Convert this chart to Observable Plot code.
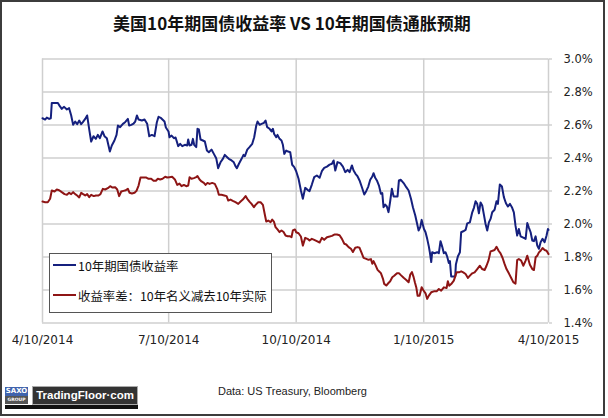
<!DOCTYPE html>
<html>
<head>
<meta charset="utf-8">
<script src="https://cdn.jsdelivr.net/npm/d3@7"></script>
<script src="https://cdn.jsdelivr.net/npm/@observablehq/plot@0.6"></script>
<style>
  html, body { margin: 0; padding: 0; background: #fff; }
  #page { position: relative; width: 608px; height: 418px; overflow: hidden; background: #fff; }
  #frame { position: absolute; left: 0; top: 0; width: 605px; height: 416px; box-sizing: border-box; border: 2px solid #3c3c3c; pointer-events: none; }
  #title { position: absolute; left: 0; width: 584px; top: 11px; text-align: center; font-family: "Noto Sans CJK SC", sans-serif; font-weight: bold; font-size: 17px; color: #111; line-height: 24px; }
  #chart { position: absolute; left: 0; top: 0; }
  #legend { position: absolute; left: 49px; top: 253px; width: 223px; height: 60px; box-sizing: border-box; background: #fff; border: 1px solid #555; font-family: "Noto Sans CJK SC", sans-serif; font-size: 12.4px; color: #111; }
  .lg { position: absolute; left: 3px; height: 18px; line-height: 18px; white-space: nowrap; }
  .sw { display: inline-block; width: 23px; height: 2px; vertical-align: middle; margin-right: 2px; position: relative; top: -3px; }
  #source { position: absolute; left: 218px; top: 385px; font-family: "Liberation Sans", Arial, sans-serif; font-size: 11px; color: #222; }
  #logo-saxo { position: absolute; left: 5px; top: 387px; width: 23px; height: 17px; font-family: "DejaVu Sans", sans-serif; color: #fff; }
  #logo-saxo .a { height: 9px; background: #3f63ad; font-size: 7px; line-height: 9px; text-align: center; font-weight: bold; }
  #logo-saxo .b { height: 8px; background: #555; font-size: 4.5px; line-height: 8px; text-align: center; font-weight: bold; }
  #logo-tf { position: absolute; left: 32px; top: 386px; width: 106px; height: 19px; box-sizing: border-box; background: #333; border: 1px solid #aaa; color: #fff; font-family: "Liberation Sans", Arial, sans-serif; font-weight: bold; font-size: 11.5px; line-height: 17px; text-align: center; }
  #logo-bar { position: absolute; left: 5px; top: 405px; width: 133px; height: 4px; background: #111; }
</style>
</head>
<body>
<div id="page">
  <div id="chart"></div>
  <div id="title">美国10年期国债收益率 VS 10年期国债通胀预期</div>
  <div id="legend"></div>
  <div id="logo-saxo"><div class="a">SAXO</div><div class="b">GROUP</div></div>
  <div id="logo-tf">TradingFloor·com</div>
  <div id="logo-bar"></div>
  <div id="source">Data: US Treasury, Bloomberg</div>
  <div id="frame"></div>
</div>
<script>
// Day offsets from 4/10/2014 and values (%)
const startDate = Date.UTC(2014, 3, 10);

const seriesNames = ["10年期国债收益率", "收益率差：10年名义减去10年实际"];
const seriesColors = ["#15207e", "#8e1515"];

const yield10y = [
[0,2.641],[1.9,2.633],[3.1,2.645],[4.8,2.637],[6.0,2.641],[6.7,2.734],[11.1,2.734],[12.5,2.714],[13.9,2.698],[15.6,2.71],
[17.6,2.694],[19.2,2.702],[20.7,2.658],[22.1,2.601],[23.6,2.621],[25.0,2.605],[26.5,2.627],[27.9,2.605],[29.1,2.617],[30.8,2.637],
[32.2,2.658],[33.7,2.573],[35.1,2.50],[36.8,2.532],[38.5,2.516],[39.9,2.54],[41.4,2.52],[43.3,2.561],[44.7,2.532],[46.4,2.52],
[47.6,2.476],[48.6,2.439],[50.0,2.476],[51.9,2.506],[53.4,2.54],[54.4,2.597],[56.0,2.587],[58.0,2.607],[59.6,2.617],[61.6,2.637],
[62.5,2.597],[64.0,2.601],[65.7,2.609],[66.9,2.621],[68.1,2.658],[69.3,2.633],[71.7,2.627],[73.6,2.633],[75.5,2.607],[77.0,2.532],
[78.9,2.54],[80.8,2.532],[82.5,2.617],[83.7,2.65],[85.6,2.641],[88.0,2.621],[89.0,2.585],[90.9,2.561],[91.6,2.526],[93.1,2.536],
[94.8,2.52],[96.0,2.524],[97.9,2.472],[99.3,2.486],[100.8,2.472],[102.7,2.48],[104.4,2.476],[105.1,2.512],[106.1,2.476],[107.5,2.48],
[108.5,2.516],[109.4,2.48],[110.9,2.466],[111.8,2.577],[112.8,2.573],[114.0,2.512],[115.7,2.506],[117.1,2.50],[118.6,2.445],[120.0,2.435],
[121.9,2.451],[123.6,2.425],[125.3,2.399],[126.7,2.338],[128.4,2.374],[130.1,2.395],[131.5,2.419],[133.2,2.405],[134.4,2.395],[136.4,2.385],
[138.0,2.374],[139.2,2.351],[140.2,2.338],[141.7,2.365],[143.6,2.395],[145.0,2.419],[146.0,2.411],[147.7,2.451],[149.3,2.466],[151.3,2.486],
[152.7,2.526],[154.2,2.597],[155.1,2.621],[156.6,2.601],[158.0,2.607],[159.7,2.613],[160.9,2.627],[162.1,2.587],[163.8,2.577],[165.2,2.561],
[166.2,2.577],[167.1,2.546],[168.6,2.526],[169.5,2.54],[171.0,2.516],[172.4,2.506],[173.4,2.48],[174.4,2.425],[175.8,2.445],[177.2,2.439],
[178.7,2.435],[180.1,2.359],[181.6,2.345],[183.0,2.32],[184.7,2.274],[186.4,2.203],[187.8,2.153],[189.5,2.219],[191.2,2.207],[192.6,2.199],
[194.3,2.239],[196.0,2.284],[197.9,2.294],[199.9,2.28],[201.5,2.32],[203.2,2.34],[205.2,2.348],[207.1,2.36],[208.8,2.365],[210.0,2.385],
[211.2,2.324],[212.8,2.375],[214.8,2.369],[216.7,2.348],[218.4,2.314],[220.1,2.328],[221.5,2.314],[223.2,2.355],[224.4,2.324],[225.8,2.304],
[227.3,2.288],[228.7,2.264],[230.4,2.223],[232.1,2.179],[233.5,2.199],[235.0,2.227],[236.4,2.268],[237.9,2.288],[238.8,2.308],[240.0,2.28],
[241.2,2.264],[242.7,2.233],[244.1,2.183],[245.1,2.187],[246.0,2.102],[247.2,2.118],[248.4,2.106],[249.6,2.072],[250.8,2.138],[252.0,2.213],
[253.3,2.167],[256.1,2.167],[257.1,2.264],[258.5,2.268],[260.5,2.248],[262.4,2.223],[264.1,2.203],[265.8,2.153],[267.2,2.102],[268.9,2.052],
[270.1,2.006],[271.3,1.961],[272.5,1.981],[273.5,2.025],[275.1,1.971],[276.3,1.95],[277.5,1.91],[278.7,1.863],[279.4,1.829],[280.4,1.769],
[281.1,1.829],[282.8,1.823],[284.7,1.829],[285.9,1.823],[287.1,1.896],[288.3,1.863],[289.5,1.823],[290.7,1.829],[291.9,1.803],[293.1,1.763],
[293.9,1.775],[294.8,1.682],[297.7,1.682],[298.2,1.755],[299.6,1.803],[301.1,1.829],[302.0,1.95],[303.5,1.956],[305.2,1.964],[306.4,2.004],
[308.3,2.01],[310.0,2.071],[311.2,2.098],[312.4,2.138],[313.6,2.122],[314.8,2.065],[316.0,2.131],[317.2,2.112],[318.4,2.057],[319.6,2.0],
[320.8,1.96],[322.0,2.01],[323.2,2.031],[324.4,2.071],[326.1,2.086],[327.5,2.138],[328.5,2.122],[329.9,2.24],[331.4,2.227],[332.8,2.163],
[334.3,2.126],[335.7,2.106],[337.2,2.122],[338.8,2.098],[340.0,2.071],[341.2,1.99],[342.4,1.93],[343.6,1.97],[344.9,1.925],[346.8,1.917],
[348.5,1.91],[349.7,2.006],[350.9,1.977],[352.1,1.95],[353.3,1.9],[354.5,1.896],[355.7,1.925],[356.9,1.87],[358.1,1.85],[359.3,1.89],
[360.7,1.91],[362.2,1.89],[363.6,1.93],[364.6,1.97],[365.0,1.964]
];

const breakeven10y = [
[0,2.136],[1.9,2.132],[3.8,2.132],[5.5,2.153],[6.7,2.203],[8.7,2.197],[10.3,2.209],[12.0,2.205],[13.9,2.193],[15.9,2.181],
[17.6,2.177],[19.2,2.189],[20.7,2.181],[22.1,2.193],[23.6,2.181],[25.0,2.173],[26.5,2.161],[27.9,2.189],[29.3,2.181],[30.8,2.173],
[32.2,2.181],[33.7,2.163],[35.1,2.177],[37.0,2.169],[38.5,2.173],[40.4,2.173],[41.8,2.181],[43.5,2.213],[45.2,2.209],[47.1,2.217],
[48.8,2.229],[50.5,2.221],[52.4,2.223],[53.9,2.209],[55.3,2.169],[56.8,2.197],[58.4,2.201],[60.1,2.205],[61.6,2.213],[62.8,2.189],
[64.5,2.185],[66.4,2.189],[67.8,2.201],[69.3,2.233],[70.7,2.282],[74.6,2.282],[76.5,2.274],[78.4,2.274],[80.1,2.262],[81.8,2.262],
[83.2,2.274],[84.9,2.27],[86.6,2.274],[88.5,2.286],[89.9,2.282],[91.6,2.284],[93.5,2.286],[95.5,2.270],[97.2,2.237],[98.8,2.245],
[100.3,2.229],[102.0,2.237],[103.7,2.229],[105.1,2.233],[106.1,2.284],[107.5,2.274],[109.2,2.278],[110.9,2.284],[111.8,2.29],[113.3,2.27],
[114.7,2.258],[116.4,2.249],[117.6,2.237],[119.0,2.249],[120.5,2.243],[122.4,2.249],[124.3,2.243],[126.0,2.213],[127.2,2.177],[129.1,2.177],
[131.1,2.173],[132.8,2.169],[134.0,2.142],[135.6,2.148],[137.3,2.14],[139.2,2.132],[141.2,2.122],[142.9,2.136],[144.5,2.148],[146.5,2.169],
[147.7,2.153],[149.3,2.136],[150.8,2.122],[152.5,2.102],[153.7,2.116],[155.6,2.132],[157.3,2.132],[159.0,2.116],[160.4,2.056],[161.4,2.015],
[162.8,2.021],[164.5,2.011],[165.7,2.027],[166.9,2.015],[168.1,1.981],[169.5,1.967],[171.0,1.951],[172.4,1.961],[173.9,1.951],[175.3,1.930],
[176.8,1.926],[178.2,1.926],[179.6,1.92],[180.6,1.961],[182.1,1.967],[183.0,1.95],[184.7,1.944],[186.4,1.924],[187.8,1.869],[189.5,1.916],
[191.2,1.91],[192.6,1.9],[194.3,1.91],[196.0,1.904],[197.9,1.896],[199.9,1.888],[201.5,1.916],[203.2,1.904],[205.2,1.92],[207.1,1.924],
[208.8,1.928],[210.5,1.936],[212.4,1.936],[214.3,1.932],[216.0,1.91],[217.7,1.88],[219.1,1.876],[220.8,1.86],[222.5,1.85],[223.9,1.83],
[225.6,1.856],[227.3,1.86],[228.7,1.856],[230.4,1.82],[231.6,1.795],[233.5,1.789],[235.2,1.783],[236.9,1.787],[237.9,1.759],[238.8,1.775],
[240.3,1.749],[241.7,1.722],[242.7,1.714],[244.1,1.702],[245.6,1.668],[246.5,1.637],[248.0,1.627],[249.4,1.641],[250.8,1.653],[252.3,1.677],
[253.7,1.686],[255.7,1.702],[257.1,1.702],[258.5,1.69],[260.5,1.674],[262.4,1.661],[264.1,1.647],[265.3,1.694],[266.5,1.708],[267.7,1.678],
[268.6,1.647],[269.6,1.617],[270.6,1.565],[272.0,1.565],[273.5,1.617],[274.6,1.6],[276.3,1.58],[277.5,1.546],[278.7,1.566],[280.4,1.586],
[282.3,1.592],[284.3,1.592],[285.9,1.606],[287.6,1.596],[289.5,1.616],[291.5,1.612],[292.4,1.653],[293.4,1.626],[294.8,1.636],[296.7,1.657],
[298.7,1.707],[300.4,1.707],[302.0,1.713],[303.5,1.707],[305.2,1.697],[306.9,1.673],[308.3,1.687],[310.0,1.701],[311.7,1.707],[313.6,1.727],
[315.5,1.747],[317.2,1.727],[318.9,1.721],[320.3,1.747],[321.8,1.781],[323.2,1.834],[324.7,1.838],[326.1,1.842],[327.5,1.862],[329.0,1.838],
[330.4,1.822],[331.9,1.794],[333.3,1.758],[334.7,1.727],[336.4,1.701],[338.1,1.673],[339.6,1.648],[341.2,1.638],[342.4,1.781],[343.6,1.788],
[345.3,1.778],[346.8,1.747],[348.5,1.778],[349.7,1.808],[351.6,1.753],[353.3,1.727],[354.5,1.721],[355.7,1.798],[356.9,1.808],[358.1,1.828],
[359.3,1.838],[360.7,1.854],[362.2,1.842],[363.6,1.838],[365.0,1.818]
];

const xTickLabels = ["2014-04-10", "2014-07-10", "2014-10-10", "2015-01-10", "2015-04-10"];
const yTicks = [1.4, 1.6, 1.8, 2.0, 2.2, 2.4, 2.6, 2.8, 3.0];

const toDate = d => new Date(startDate + d * 86400000);
const rows = [];
yield10y.forEach(([d, v]) => rows.push({date: toDate(d), value: v, series: seriesNames[0]}));
breakeven10y.forEach(([d, v]) => rows.push({date: toDate(d), value: v, series: seriesNames[1]}));
const xTicks = xTickLabels.map(s => new Date(s + "T00:00:00Z"));

const chart = Plot.plot({
  width: 608,
  height: 418,
  marginLeft: 42,
  marginRight: 60,
  marginTop: 58.5,
  marginBottom: 95.5,
  style: {background: "transparent", fontFamily: "DejaVu Sans, sans-serif", color: "#222", overflow: "visible"},
  x: {type: "utc", domain: [xTicks[0], xTicks[xTicks.length - 1]]},
  y: {domain: [1.4, 3.0]},
  color: {domain: seriesNames, range: seriesColors},
  marks: [
    Plot.gridY(yTicks, {stroke: "#cfcfcf", strokeOpacity: 1, strokeWidth: 1.5}),
    Plot.gridX(xTicks, {stroke: "#cfcfcf", strokeOpacity: 1, strokeWidth: 1.5}),
    Plot.axisY(yTicks, {anchor: "right", tickSize: 3, tickPadding: 12, stroke: "#bbb", fontSize: 11.5,
      tickFormat: d => d.toFixed(1) + "%", label: null}),
    Plot.axisX(xTicks, {anchor: "bottom", tickSize: 0, tickPadding: 12, fontSize: 12,
      tickFormat: d3.utcFormat("%-m/%-d/%Y"), label: null}),
    Plot.line(rows, {x: "date", y: "value", z: "series", stroke: "series", strokeWidth: 2, curve: "linear"})
  ]
});
document.getElementById("chart").appendChild(chart);

// legend
const legend = document.getElementById("legend");
seriesNames.forEach((name, i) => {
  const row = document.createElement("div");
  row.className = "lg";
  row.style.top = (i === 0 ? 3 : 33) + "px";
  const sw = document.createElement("span");
  sw.className = "sw";
  sw.style.background = seriesColors[i];
  row.appendChild(sw);
  row.appendChild(document.createTextNode(name));
  legend.appendChild(row);
});
</script>
</body>
</html>
